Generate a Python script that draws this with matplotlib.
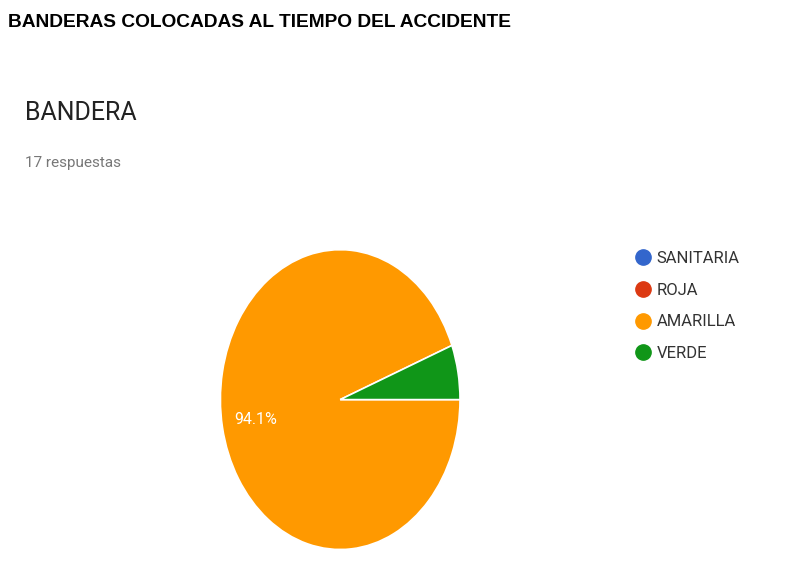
import matplotlib.pyplot as plt
from matplotlib.lines import Line2D

categorias = ["SANITARIA", "ROJA", "AMARILLA", "VERDE"]
respuestas = [0, 0, 16, 1]
colores = ["#3366cc", "#dc3912", "#ff9900", "#109618"]

fig = plt.figure(figsize=(8, 5.66), dpi=100)
fig.patch.set_facecolor("white")

fig.text(0.01, 0.96, "BANDERAS COLOCADAS AL TIEMPO DEL ACCIDENTE",
         fontsize=13.8, fontweight="bold", family="Liberation Sans", va="center")
fig.text(0.031, 0.80, "BANDERA", fontsize=18, color="#222222",
         family="Roboto", va="center")
fig.text(0.031, 0.712, "17 respuestas", fontsize=11, color="#777777",
         family="Roboto", va="center")

ax = fig.add_axes([0.274, 0.0265, 0.3025, 0.535])
datos = [v for v in respuestas if v > 0]
cols = [c for v, c in zip(respuestas, colores) if v > 0]
ax.pie(datos, colors=cols, startangle=0, counterclock=False,
       autopct=lambda p: f"{p:.1f}%" if p > 10 else "", pctdistance=0.72,
       wedgeprops=dict(edgecolor="white", linewidth=1.2),
       textprops=dict(color="white", fontsize=11.5, family="Roboto"))
ax.set_aspect("auto")
ax.set_xlim(-1.01, 1.01)
ax.set_ylim(-1.01, 1.01)

handles = [Line2D([], [], marker="o", linestyle="", color=c, markersize=11)
           for c in colores]
fig.legend(handles, categorias, loc="upper left",
           bbox_to_anchor=(0.775, 1 - 236 / 566), frameon=False,
           handletextpad=0.3, labelspacing=1.0, handlelength=1.0,
           labelcolor="#333333",
           prop=dict(family="Roboto", size=12))

fig.savefig("out.png", dpi=100)
